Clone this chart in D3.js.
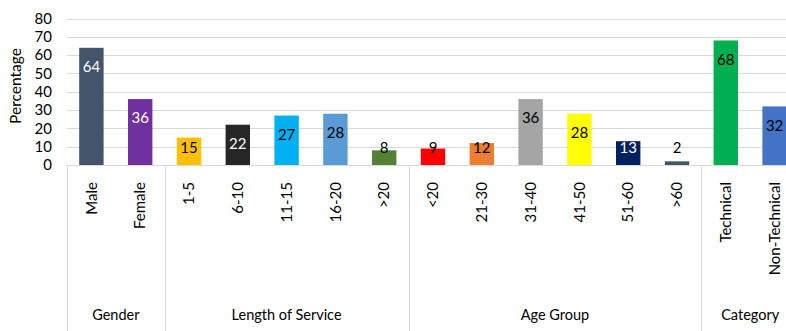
<!DOCTYPE html>
<html lang="en">
<head>
  <script src="https://d3js.org/d3.v7.min.js"></script>
  <style>
    body {
      margin: 0;
      background: #fff;
      font-family: Lato, "Open Sans", sans-serif;
    }
    svg text {
      fill: #000;
    }
  </style>
</head>
<body>
<div id="chart"></div>
<script>
  // bar categories, left to right
  var categories = ["Male", "Female", "1-5", "6-10", "11-15", "16-20", ">20",
    "<20", "21-30", "31-40", "41-50", "51-60", ">60", "Technical", "Non-Technical"];
  var values = [64, 36, 15, 22, 27, 28, 8, 9, 12, 36, 28, 13, 2, 68, 32];
  var groupNames = ["Gender", "Length of Service", "Age Group", "Category"];
  var groupSizes = [2, 5, 6, 2];
  var yTicks = [0, 10, 20, 30, 40, 50, 60, 70, 80];

  var barColors = ["#44546A", "#7030A0", "#FFC000", "#262626", "#00B0F0", "#5B9BD5", "#548235",
    "#FF0000", "#ED7D31", "#A5A5A5", "#FFFF00", "#002060", "#44546A", "#00B050", "#4472C4"];
  var whiteLabel = ["Male", "Female", "6-10", "51-60"];

  var width = 786, height = 331;
  var plotLeft = 67, plotRight = 799, plotTop = 18.5, base = 165;

  var svg = d3.select("#chart").append("svg")
          .attr("width", width)
          .attr("height", height)
          .style("display", "block");

  var x = d3.scaleBand().domain(categories).range([plotLeft, plotRight])
          .paddingInner(0.5).paddingOuter(0.25);
  var y = d3.scaleLinear().domain([0, 80]).range([base, plotTop]);

  // gridlines
  svg.append("g").selectAll("line")
          .data(yTicks)
          .enter().append("line")
          .attr("x1", plotLeft).attr("x2", width)
          .attr("y1", function(d) { return Math.round(y(d)) + 0.5; })
          .attr("y2", function(d) { return Math.round(y(d)) + 0.5; })
          .attr("stroke", "#d9d9d9")
          .attr("stroke-width", 1);

  // y axis labels
  var yAxis = d3.axisLeft(y).tickValues(yTicks).tickSize(0).tickPadding(0);
  var gY = svg.append("g")
          .attr("transform", "translate(52,0)")
          .call(yAxis);
  gY.select(".domain").remove();
  gY.selectAll("text")
          .style("font-family", "Lato, sans-serif")
          .style("font-size", "15px")
          .attr("fill", "#000");

  svg.append("text")
          .attr("transform", "translate(21,86) rotate(-90)")
          .attr("text-anchor", "middle")
          .style("font-size", "15.5px")
          .text("Percentage");

  // bars
  svg.append("g").selectAll("rect")
          .data(categories)
          .enter().append("rect")
          .attr("x", function(d) { return x(d); })
          .attr("width", x.bandwidth())
          .attr("y", function(d, i) { return y(values[i]); })
          .attr("height", function(d, i) { return base - y(values[i]); })
          .attr("fill", function(d, i) { return barColors[i]; });

  // value labels
  svg.append("g").selectAll("text")
          .data(categories)
          .enter().append("text")
          .attr("x", function(d) { return x(d) + x.bandwidth() / 2; })
          .attr("y", function(d, i) { return Math.min(y(values[i]) + 19, base - 17); })
          .attr("dy", "0.35em")
          .attr("text-anchor", "middle")
          .style("font-size", "15px")
          .style("fill", function(d) { return whiteLabel.indexOf(d) >= 0 ? "#fff" : "#000"; })
          .text(function(d, i) { return values[i]; });

  // category labels, rotated
  var xAxis = d3.axisBottom(x).tickSize(0).tickPadding(0);
  var gX = svg.append("g")
          .attr("transform", "translate(0," + base + ")")
          .call(xAxis);
  gX.select(".domain").remove();
  gX.selectAll("text")
          .attr("transform", "rotate(-90)")
          .attr("text-anchor", "end")
          .attr("x", -17)
          .attr("y", 0)
          .attr("dy", "0.35em")
          .style("font-family", "Lato, sans-serif")
          .style("font-size", "15px")
          .attr("fill", "#000");

  // group separators and names
  var start = 0;
  var bounds = [0];
  groupSizes.forEach(function(n) { start += n; bounds.push(start); });
  var step = x.step();

  svg.append("g").selectAll("line")
          .data(bounds)
          .enter().append("line")
          .attr("x1", function(d) { return Math.round(plotLeft + d * step) + 0.5; })
          .attr("x2", function(d) { return Math.round(plotLeft + d * step) + 0.5; })
          .attr("y1", base)
          .attr("y2", height)
          .attr("stroke", "#d9d9d9");

  svg.append("g").selectAll("text")
          .data(groupNames)
          .enter().append("text")
          .attr("x", function(d, i) { return plotLeft + (bounds[i] + bounds[i + 1]) / 2 * step; })
          .attr("y", 315)
          .attr("dy", "0.35em")
          .attr("text-anchor", "middle")
          .style("font-size", "14.5px")
          .text(function(d) { return d; });
</script>
</body>
</html>
